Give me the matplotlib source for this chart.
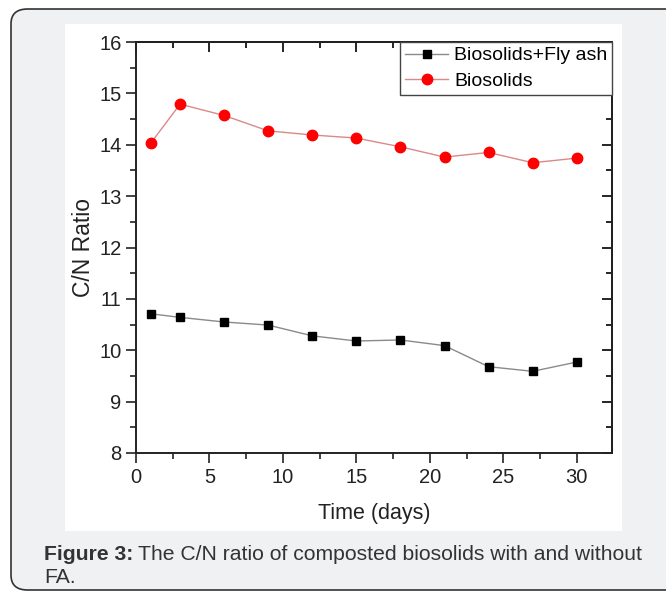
import matplotlib.pyplot as plt
from matplotlib.patches import FancyBboxPatch, Rectangle
from matplotlib.ticker import MultipleLocator

plt.rcParams['font.family'] = ['Liberation Sans', 'DejaVu Sans']

# data
days = [1, 3, 6, 9, 12, 15, 18, 21, 24, 27, 30]
fly_ash = [10.71, 10.64, 10.55, 10.49, 10.28, 10.18, 10.20, 10.09, 9.68, 9.59, 9.77]
biosolids = [14.03, 14.79, 14.57, 14.27, 14.19, 14.13, 13.96, 13.76, 13.85, 13.65, 13.74]

W, H = 666, 592
fig = plt.figure(figsize=(W / 100, H / 100), dpi=100, facecolor='white')

# grey caption panel with rounded corners
panel = FancyBboxPatch((11 / W, 2 / H), 700 / W, (583 - 2) / H,
                       boxstyle='round,pad=0,rounding_size=0.025',
                       transform=fig.transFigure, facecolor='#f0f1f3',
                       edgecolor='#333333', linewidth=1.2, zorder=-2)
fig.patches.append(panel)
# white chart box
fig.patches.append(Rectangle((65 / W, 1 - 531 / H), (622 - 65) / W, (531 - 24) / H,
                             transform=fig.transFigure, facecolor='white',
                             edgecolor='none', zorder=-1))

ax = fig.add_axes([136 / W, 1 - 453 / H, 476 / W, 411 / H])
ax.set_facecolor('white')

ax.plot(days, fly_ash, color='#8a8a8a', lw=1, marker='s', ms=5.5,
        mfc='black', mec='black', label='Biosolids+Fly ash')
ax.plot(days, biosolids, color='#d9898a', lw=1, marker='o', ms=7.5,
        mfc='#ff0000', mec='#ff0000', label='Biosolids')

ax.set_xlim(0, 32.4)
ax.set_ylim(8, 16)
ax.xaxis.set_major_locator(MultipleLocator(5))
ax.xaxis.set_minor_locator(MultipleLocator(2.5))
ax.yaxis.set_major_locator(MultipleLocator(1))
ax.yaxis.set_minor_locator(MultipleLocator(0.5))
ax.tick_params(which='both', direction='out', top=False, right=False,
               width=1.2, labelsize=14.5, colors='#222222')
ax.tick_params(which='major', length=7)
ax.tick_params(which='minor', length=4)

# Origin style: inward ticks on top and right
top = ax.secondary_xaxis('top')
top.xaxis.set_major_locator(MultipleLocator(5))
top.xaxis.set_minor_locator(MultipleLocator(2.5))
top.tick_params(which='both', direction='in', labeltop=False, width=1.2)
top.tick_params(which='major', length=7)
top.tick_params(which='minor', length=4)
right = ax.secondary_yaxis('right')
right.yaxis.set_major_locator(MultipleLocator(1))
right.yaxis.set_minor_locator(MultipleLocator(0.5))
right.tick_params(which='both', direction='in', labelright=False, width=1.2)
right.tick_params(which='major', length=7)
right.tick_params(which='minor', length=4)

for sp in ax.spines.values():
    sp.set_linewidth(1.4)
    sp.set_color('#222222')
top.spines['top'].set_linewidth(1.4)
right.spines['right'].set_linewidth(1.4)

ax.set_xlabel('Time (days)', fontsize=15.5, color='#222222', labelpad=12)
ax.set_ylabel('C/N Ratio', fontsize=16.5, color='#222222', labelpad=3)

leg = ax.legend(loc='upper right', borderaxespad=0, fontsize=14, fancybox=False,
                edgecolor='#444444', framealpha=1, handlelength=2.2,
                handletextpad=0.3, borderpad=0.25, labelspacing=0.4)
leg.get_frame().set_linewidth(1.0)

# caption
renderer = fig.canvas.get_renderer()
t1 = fig.text(44 / W, 1 - 560 / H, 'Figure 3:', fontsize=15.2, fontweight='bold',
              color='#333333', va='baseline')
bb = t1.get_window_extent(renderer)
fig.text(bb.x1 / W + 5 / W, 1 - 560 / H,
         'The C/N ratio of composted biosolids with and without',
         fontsize=15.2, color='#333333', va='baseline')
fig.text(44 / W, 1 - 583 / H, 'FA.', fontsize=15.2, color='#333333', va='baseline')

fig.savefig('out.png', dpi=100, facecolor='white')
